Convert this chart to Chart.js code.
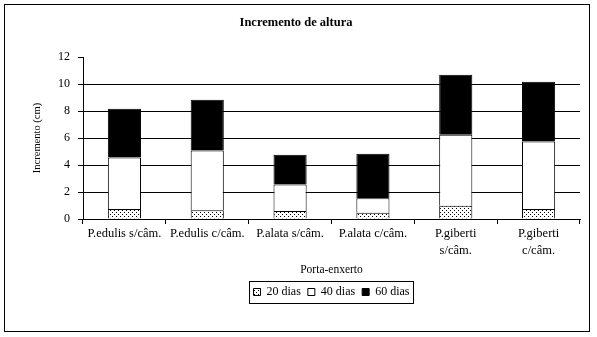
<!DOCTYPE html>
<html>
<head>
<meta charset="utf-8">
<script src="https://cdn.jsdelivr.net/npm/chart.js@4.4.1/dist/chart.umd.min.js"></script>
<style>
  html, body { margin: 0; padding: 0; background: #fff; }
  #wrap { width: 597px; height: 337px; }
</style>
</head>
<body>
<div id="wrap"><canvas id="incChart" width="597" height="337"></canvas></div>
<script>
// === data ===
const categories = [
  'P.edulis s/câm.', 'P.edulis c/câm.', 'P.alata s/câm.', 'P.alata c/câm.',
  ['P.giberti', 's/câm.'], ['P.giberti', 'c/câm.']
];
const dias20 = [0.74, 0.64, 0.59, 0.47, 0.99, 0.74];
const dias40 = [3.82, 4.44, 1.97, 1.06, 5.25, 5.01];
const dias60 = [3.61, 3.75, 2.20, 3.31, 4.45, 4.42];
const yTicks = [0, 2, 4, 6, 8, 10, 12];

const serif = '"Liberation Serif", "Times New Roman", serif';

// dotted fill for the 20 dias series
function dotPattern() {
  const c = document.createElement('canvas');
  c.width = 4; c.height = 4;
  const g = c.getContext('2d');
  g.fillStyle = '#fff';
  g.fillRect(0, 0, 4, 4);
  g.fillStyle = '#000';
  g.fillRect(0, 0, 1, 1);
  g.fillRect(2, 2, 1, 1);
  return g.createPattern(c, 'repeat');
}
const dots = dotPattern();

// outer frame + box round the legend
const framePlugin = {
  id: 'frame',
  beforeDraw(chart) {
    const ctx = chart.ctx;
    ctx.save();
    ctx.fillStyle = '#fff';
    ctx.fillRect(0, 0, chart.width, chart.height);
    ctx.strokeStyle = '#000';
    ctx.lineWidth = 1;
    ctx.strokeRect(4.5, 4.5, 585, 327);
    ctx.restore();
  },
  afterDraw(chart) {
    const boxes = chart.legend.legendHitBoxes;
    if (!boxes || !boxes.length) return;
    let l = Infinity, r = -Infinity, t = Infinity, b = -Infinity;
    boxes.forEach(h => {
      l = Math.min(l, h.left); r = Math.max(r, h.left + h.width);
      t = Math.min(t, h.top); b = Math.max(b, h.top + h.height);
    });
    const ctx = chart.ctx;
    ctx.save();
    ctx.strokeStyle = '#000';
    ctx.lineWidth = 1;
    ctx.strokeRect(Math.round(l - 5) + 0.5, Math.round(t - 5) + 0.5, Math.round(r - l + 8), Math.round(b - t + 10));
    ctx.restore();
  }
};

const mkSet = (label, data, bg) => ({
  label: label,
  data: data,
  backgroundColor: bg,
  borderColor: '#000',
  borderWidth: 1,
  barPercentage: 0.4,
  categoryPercentage: 1
});

new Chart(document.getElementById('incChart').getContext('2d'), {
  type: 'bar',
  data: {
    labels: categories,
    datasets: [
      mkSet('20 dias', dias20, dots),
      mkSet('40 dias', dias40, '#fff'),
      mkSet('60 dias', dias60, '#000')
    ]
  },
  options: {
    responsive: false,
    animation: false,
    devicePixelRatio: 1,
    layout: { padding: { top: 5, left: 4, right: 9, bottom: 29 } },
    plugins: {
      title: {
        display: true,
        text: 'Incremento de altura',
        color: '#000',
        font: { family: serif, size: 12.5, weight: 'bold' },
        padding: { top: 10, bottom: 27 }
      },
      legend: {
        position: 'bottom',
        fullSize: false,
        labels: {
          color: '#000',
          font: { family: serif, size: 12 },
          boxWidth: 7,
          boxHeight: 7,
          padding: 7
        }
      },
      tooltip: { enabled: false }
    },
    scales: {
      x: {
        stacked: true,
        afterFit: s => { s.height = 60; s.paddingLeft = 0; s.paddingRight = 17; },
        grid: { offset: true, drawOnChartArea: false, color: '#000', tickLength: 5 },
        border: { color: '#000' },
        ticks: { color: '#000', font: { family: serif, size: 12.5, lineHeight: 1.35 }, padding: 1, maxRotation: 0, autoSkip: false },
        title: {
          display: true,
          text: 'Porta-enxerto',
          color: '#000',
          font: { family: serif, size: 11.5 },
          padding: { top: 0, bottom: 2 }
        }
      },
      y: {
        stacked: true,
        min: 0,
        max: 12,
        afterFit: s => { s.width = 79; },
        afterBuildTicks: s => { s.ticks = yTicks.map(v => ({ value: v })); },
        grid: {
          color: c => (c.tick && c.tick.value > 0 && c.tick.value < 12) ? '#000' : 'rgba(0,0,0,0)',
          tickColor: '#000',
          tickLength: 5
        },
        border: { color: '#000' },
        ticks: { color: '#000', font: { family: serif, size: 12 }, padding: 8 },
        title: {
          display: true,
          text: 'Incremento (cm)',
          color: '#000',
          font: { family: serif, size: 10.5 },
          padding: { top: 27, bottom: 0 }
        }
      }
    }
  },
  plugins: [framePlugin]
});
</script>
</body>
</html>
